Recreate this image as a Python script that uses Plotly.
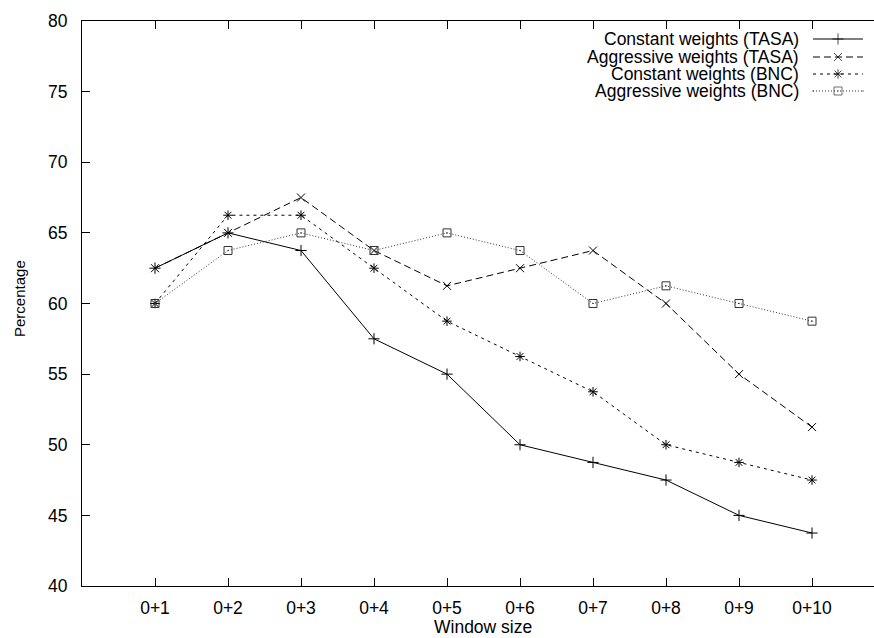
import plotly.graph_objects as go

categories = ["0+1", "0+2", "0+3", "0+4", "0+5", "0+6", "0+7", "0+8", "0+9", "0+10"]
const_tasa = [62.5, 65, 63.75, 57.5, 55, 50, 48.75, 47.5, 45, 43.75]
aggr_tasa = [62.5, 65, 67.5, 63.75, 61.25, 62.5, 63.75, 60, 55, 51.25]
const_bnc = [60, 66.25, 66.25, 62.5, 58.75, 56.25, 53.75, 50, 48.75, 47.5]
aggr_bnc = [60, 63.75, 65, 63.75, 65, 63.75, 60, 61.25, 60, 58.75]
series_names = ["Constant weights (TASA)", "Aggressive weights (TASA)",
                "Constant weights (BNC)", "Aggressive weights (BNC)"]
y_ticks = [40, 45, 50, 55, 60, 65, 70, 75, 80]

W, H = 874, 638
ML, MR, MT, MB = 82, 0, 21, 52
FONT = "Liberation Sans, Arial, Helvetica, sans-serif"
FS = 17.5

styles = [
    dict(dash="solid", symbol="cross-thin-open", color="#000000"),
    dict(dash="7px,4px", symbol="x-thin-open", color="#000000"),
    dict(dash="3px,4px", symbol="asterisk-open", color="#000000"),
    dict(dash="1px,2px", symbol="square-open-dot", color="#333333"),
]
data = [const_tasa, aggr_tasa, const_bnc, aggr_bnc]
xs = list(range(1, len(categories) + 1))

fig = go.Figure()
for name, vals, st in zip(series_names, data, styles):
    fig.add_trace(go.Scatter(
        x=xs, y=vals, mode="lines+markers", name=name, showlegend=False,
        line=dict(color=st["color"], width=1, dash=st["dash"]),
        marker=dict(symbol=st["symbol"], size=8, color=st["color"],
                    line=dict(width=1, color=st["color"])),
    ))

# manual gnuplot-style legend (text right-aligned, sample on the right)
plot_w = W - ML - MR
plot_h = H - MT - MB
row_px = [39, 57, 74, 91]
x0 = (813 - ML) / plot_w
x1 = (863 - ML) / plot_w
xt = (801 - ML) / plot_w
for name, st, ry in zip(series_names, styles, row_px):
    yy = (H - MB - ry) / plot_h
    fig.add_trace(go.Scatter(
        x=[x0, (x0 + x1) / 2, x1], y=[yy] * 3, mode="lines+markers",
        xaxis="x2", yaxis="y2", showlegend=False, hoverinfo="skip",
        line=dict(color=st["color"], width=1, dash=st["dash"]),
        marker=dict(symbol=st["symbol"], size=[0, 8, 0], color=st["color"],
                    line=dict(width=1, color=st["color"])),
    ))
    fig.add_annotation(x=xt, y=yy, xref="paper", yref="paper", text=name,
                       showarrow=False, xanchor="right", yanchor="middle",
                       font=dict(family=FONT, size=FS, color="#000"))

fig.add_annotation(x=(483 - ML) / plot_w, y=(H - MB - 627) / plot_h,
                   xref="paper", yref="paper", text="Window size",
                   showarrow=False, xanchor="center", yanchor="middle",
                   font=dict(family=FONT, size=FS, color="#000"))
fig.add_annotation(x=(19 - ML) / plot_w, y=(H - MB - 299) / plot_h,
                   xref="paper", yref="paper",
                   text="Percentage", textangle=-90, showarrow=False,
                   xanchor="center", yanchor="middle",
                   font=dict(family=FONT, size=15, color="#000"))

fig.update_layout(
    width=W, height=H, margin=dict(l=ML, r=MR, t=MT, b=MB),
    paper_bgcolor="white", plot_bgcolor="white",
    font=dict(family=FONT, size=FS, color="#000"),
    xaxis=dict(range=[0, plot_w / 73.0], tickmode="array", tickvals=xs,
               ticktext=categories, showgrid=False, zeroline=False,
               showline=True, linecolor="#000", linewidth=1, mirror="ticks",
               ticks="inside", ticklen=8, tickcolor="#000", tickwidth=1,
               ticklabelstandoff=6),
    yaxis=dict(range=[40, 80], tickmode="array", tickvals=y_ticks,
               showgrid=False, zeroline=False, showline=True, linecolor="#000",
               linewidth=1, ticks="inside", ticklen=8, tickcolor="#000",
               tickwidth=1, ticklabelstandoff=10),
    xaxis2=dict(domain=[0, 1], range=[0, 1], overlaying="x", visible=False),
    yaxis2=dict(domain=[0, 1], range=[0, 1], overlaying="y", visible=False),
)

fig.write_html("out.html", config={"displayModeBar": False},
               post_script="document.body.style.margin='0';document.body.style.overflow='hidden';")
